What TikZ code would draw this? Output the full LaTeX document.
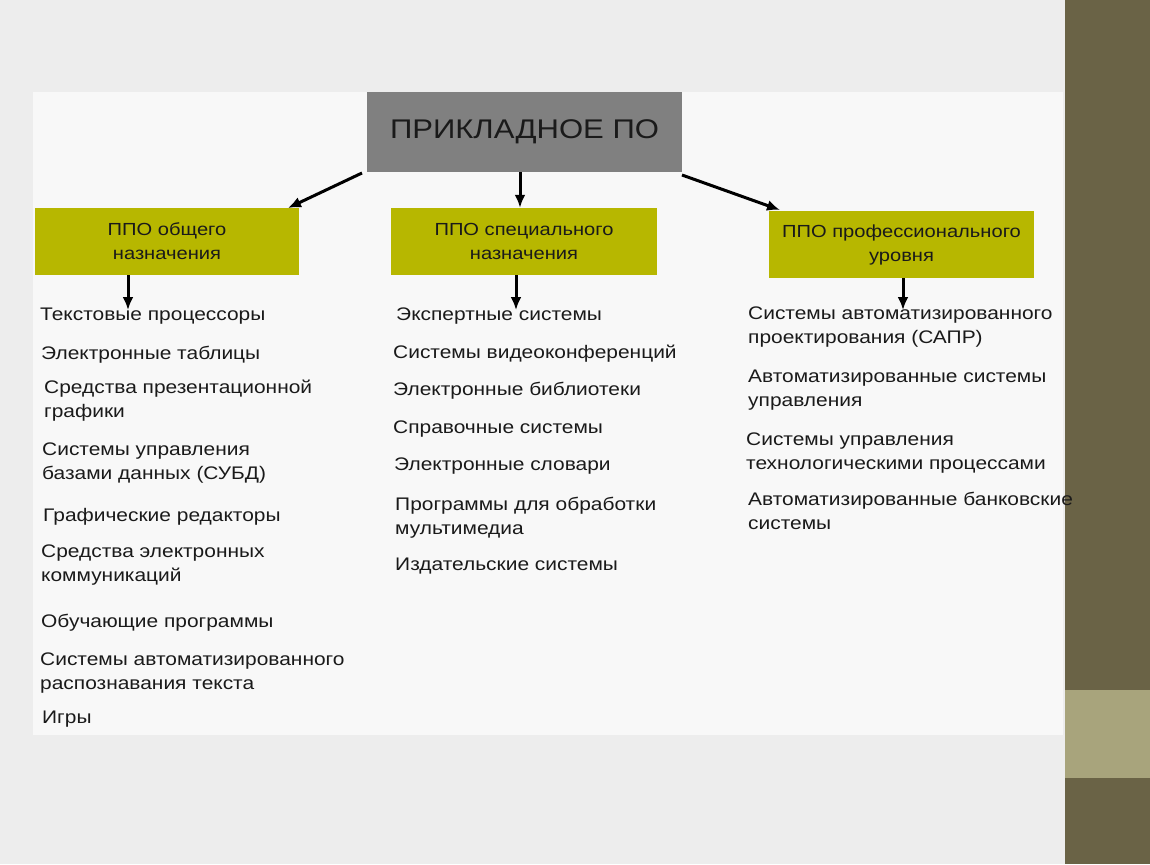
\documentclass[tikz,border=0pt]{standalone}
\usepackage{fontspec}
\setmainfont[FakeStretch=1.15]{Liberation Sans}
\usetikzlibrary{arrows.meta}
\definecolor{bgout}{HTML}{EDEDED}
\definecolor{panel}{HTML}{F8F8F8}
\definecolor{strip}{HTML}{6A6346}
\definecolor{stripl}{HTML}{A8A47C}
\definecolor{olive}{HTML}{B7B700}
\definecolor{titlegray}{HTML}{808080}
\definecolor{txt}{HTML}{1A1A1A}
\begin{document}
\begin{tikzpicture}[x=1pt,y=-1pt,
  cat/.style={fill=olive,draw=none,inner sep=0pt,align=center,font=\fontsize{17.5}{24}\selectfont,text=txt},
  item/.style={anchor=west,align=left,inner sep=0pt,font=\fontsize{18.2}{24}\selectfont,text=txt},
  arr/.style={-{Latex[length=13pt,width=11pt]},line width=3pt,black}]
\useasboundingbox (0,0) rectangle (1150,864);
\fill[bgout] (0,0) rectangle (1150,864);
\fill[panel] (33,92) rectangle (1063,735);
\fill[strip] (1065,0) rectangle (1150,864);
\fill[stripl] (1065,690) rectangle (1150,778);
\node[fill=titlegray,minimum width=315pt,minimum height=80pt,inner sep=0pt,font=\fontsize{27}{30}\selectfont,text=txt] (top) at (524.5,132) {ПРИКЛАДНОЕ ПО};
\node[cat,minimum width=264pt,minimum height=67pt] (c1) at (167,241.5) {ППО общего\\назначения};
\node[cat,minimum width=266pt,minimum height=67pt] (c2) at (524,241.5) {ППО специального\\назначения};
\node[cat,minimum width=265pt,minimum height=67pt] (c3) at (901.5,244.5) {ППО профессионального\\уровня};
\coordinate (a1) at (362,173); \coordinate (a3) at (682,175);
\coordinate (e1) at (288,208); \coordinate (e3) at (780,210);
\draw[arr] (a1) -- (e1);
\draw[arr] (top.south -| 520,0) -- (c2.north -| 520,0);
\draw[arr] (a3) -- (e3);
\coordinate (b1) at (128,310); \coordinate (b2) at (516,310); \coordinate (b3) at (903,310);
\draw[arr] (c1.south -| b1) -- (b1);
\draw[arr] (c2.south -| b2) -- (b2);
\draw[arr] (c3.south -| b3) -- (b3);
% left
\node[item] (l1) at (40,316) {Текстовые процессоры};
\node[item] (l2) at (41,355) {Электронные таблицы};
\node[item] (l3) at (44,401) {Средства презентационной\\графики};
\node[item] (l4) at (42,463) {Системы управления\\базами данных (СУБД)};
\node[item] (l5) at (43,517) {Графические редакторы};
\node[item] (l6) at (41,565) {Средства электронных\\коммуникаций};
\node[item] (l7) at (41,623) {Обучающие программы};
\node[item] (l8) at (40,673) {Системы автоматизированного\\распознавания текста};
\node[item] (l9) at (42,719) {Игры};
% middle
\node[item] (m1) at (396,316) {Экспертные системы};
\node[item] (m2) at (393,354) {Системы видеоконференций};
\node[item] (m3) at (393,391) {Электронные библиотеки};
\node[item] (m4) at (393,429) {Справочные системы};
\node[item] (m5) at (394,466) {Электронные словари};
\node[item] (m6) at (395,518) {Программы для обработки\\мультимедиа};
\node[item] (m7) at (395,566) {Издательские системы};
% right
\node[item] (r1) at (748,327) {Системы автоматизированного\\проектирования (САПР)};
\node[item] (r2) at (748,390) {Автоматизированные системы\\управления};
\node[item] (r3) at (746,453) {Системы управления\\технологическими процессами};
\node[item] (r4) at (748,511) {Автоматизированные банковские\\системы};
\end{tikzpicture}
\end{document}
